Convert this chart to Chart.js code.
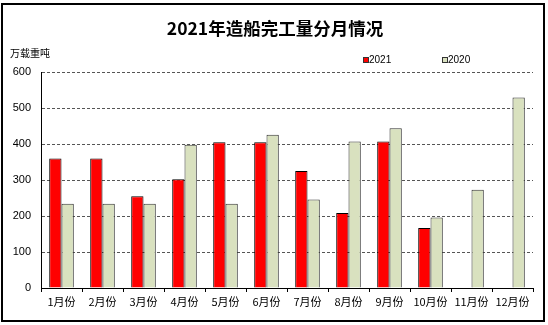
<!DOCTYPE html>
<html>
<head>
<meta charset="utf-8">
<script src="https://cdn.jsdelivr.net/npm/chart.js@4/dist/chart.umd.min.js"></script>
<style>
  html, body { margin: 0; padding: 0; background: #fff; }
  #wrap { width: 548px; height: 325px; position: relative; }
</style>
</head>
<body>
<div id="wrap"><canvas id="c" width="548" height="325"></canvas></div>
<script>
const chartTitle = '2021年造船完工量分月情况';
const unitLabel = '万载重吨';
const categories = ['1月份','2月份','3月份','4月份','5月份','6月份','7月份','8月份','9月份','10月份','11月份','12月份'];
const seriesNames = ['2021', '2020'];
const values2021 = [360, 360, 255, 302, 405, 405, 325, 208, 407, 167, null, null];
const values2020 = [234, 234, 234, 398, 234, 426, 246, 407, 444, 196, 273, 529];
const yTicks = [0, 100, 200, 300, 400, 500, 600];

const RED = '#ff0000';
const GREEN = '#d9e1bf';

const decor = {
  id: 'decor',
  beforeDraw(chart) {
    const ctx = chart.ctx;
    ctx.save();
    ctx.fillStyle = '#fff';
    ctx.fillRect(0, 0, chart.width, chart.height);
    ctx.restore();
  },
  afterDraw(chart) {
    const ctx = chart.ctx;
    ctx.save();
    // outer frame
    ctx.strokeStyle = '#000';
    ctx.lineWidth = 2;
    ctx.strokeRect(2, 4, 542, 317);
    // title
    ctx.fillStyle = '#000';
    ctx.textAlign = 'center';
    ctx.textBaseline = 'middle';
    ctx.font = 'bold 17.5px "Noto Sans CJK SC", sans-serif';
    ctx.fillText(chartTitle, 275, 28);
    // unit label
    ctx.textAlign = 'left';
    ctx.font = '10px "Noto Sans CJK SC", sans-serif';
    ctx.fillText(unitLabel, 10, 53);
    // legend
    const items = [[363, RED, seriesNames[0]], [442, GREEN, seriesNames[1]]];
    ctx.font = '10px "Liberation Sans", Arial, sans-serif';
    items.forEach(([x, col, txt]) => {
      ctx.fillStyle = col;
      ctx.fillRect(x, 57, 5, 5);
      ctx.strokeStyle = '#333';
      ctx.lineWidth = 1;
      ctx.strokeRect(x + 0.5, 57.5, 5, 5);
      ctx.fillStyle = '#000';
      ctx.fillText(txt, x + 6, 60.5);
    });
    ctx.restore();
  }
};

new Chart(document.getElementById('c'), {
  type: 'bar',
  data: {
    labels: categories,
    datasets: [
      { label: seriesNames[0], data: values2021, backgroundColor: RED, borderColor: '#000', borderWidth: 1, categoryPercentage: 0.6, barPercentage: 1.0 },
      { label: seriesNames[1], data: values2020, backgroundColor: GREEN, borderColor: '#333', borderWidth: 1, categoryPercentage: 0.6, barPercentage: 1.0 }
    ]
  },
  options: {
    responsive: false,
    animation: false,
    devicePixelRatio: 1,
    layout: { padding: { left: 0, top: 72, right: 15, bottom: 0 } },
    plugins: {
      legend: { display: false },
      title: { display: false },
      tooltip: { enabled: false }
    },
    scales: {
      x: {
        afterFit(scale) { scale.height = 37; },
        grid: { display: true, offset: true, drawOnChartArea: false, drawTicks: true, tickLength: 4, color: '#000' },
        border: { display: true, color: '#000', width: 1 },
        ticks: { color: '#000', padding: 3, font: { family: '"Noto Sans CJK SC", sans-serif', size: 11 }, maxRotation: 0, autoSkip: false }
      },
      y: {
        min: 0, max: 600,
        afterFit(scale) { scale.width = 41; },
        afterBuildTicks(scale) { scale.ticks = yTicks.map(v => ({ value: v })); },
        grid: { color: '#555', drawTicks: false },
        border: { display: true, color: '#000', width: 1, dash: [3, 2] },
        ticks: { color: '#000', padding: 10, font: { family: '"Liberation Sans", Arial, sans-serif', size: 11 } }
      }
    }
  },
  plugins: [decor]
});
</script>
</body>
</html>
